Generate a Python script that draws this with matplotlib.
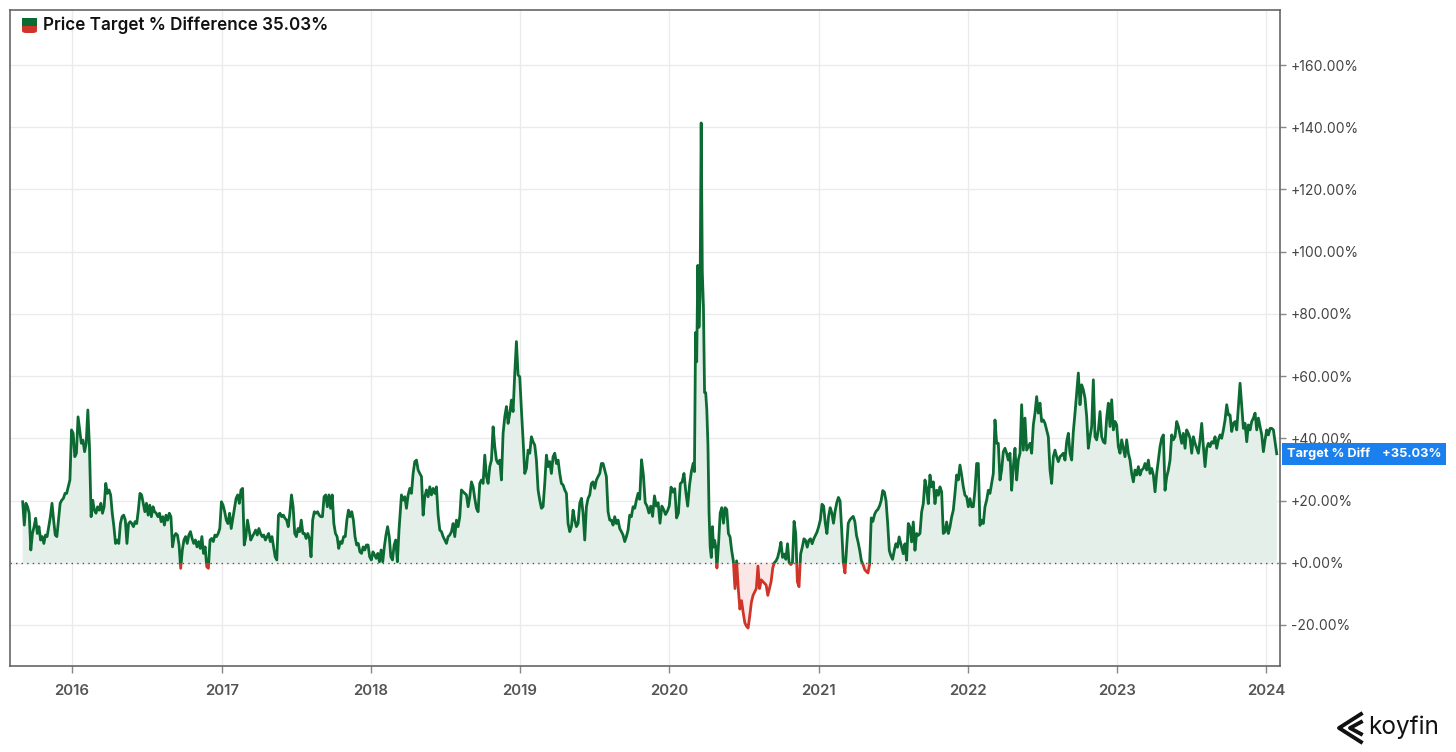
import numpy as np
import pandas as pd
import matplotlib
matplotlib.use("Agg")
import matplotlib.pyplot as plt
import matplotlib.dates as mdates
from matplotlib.patches import Rectangle, FancyBboxPatch
from matplotlib.lines import Line2D

plt.rcParams['font.family'] = ['Inter', 'DejaVu Sans']

# price target % difference in stretches
seg_a = [19.6, 12.1, 19.1, 18.0, 15.9, 4.1, 9.4, 11.6, 14.3, 9.4, 11.6, 7.3, 8.4, 6.2, 8.9, 8.4, 11.6, 14.8,
         19.1, 13.7, 8.9, 8.4, 13.7, 19.1, 20.1, 20.7, 22.3, 22.3, 24.4, 26.6, 42.7, 41.6, 34.1, 35.2, 46.9,
         42.7, 38.4, 39.4, 35.7, 38.4, 49.1, 37.3, 14.8, 20.1, 16.9, 15.9, 18.0, 16.9, 19.1, 15.9, 18.0, 25.5,
         22.3, 23.4, 21.8, 15.9, 11.6, 6.2, 7.3, 6.2, 12.6, 14.8, 15.3, 13.7, 6.2, 12.6, 13.2, 12.6, 11.6, 13.2,
         12.6, 16.9, 22.3, 21.8, 19.1, 16.4, 19.1, 15.3, 18.5, 14.8, 18.0, 16.4, 15.9, 14.8, 15.9, 13.2, 14.8,
         12.1, 15.3, 13.7, 15.9, 14.8, 5.1, 8.4, 9.4, 8.9, 5.7, -1.8, 4.1, 7.3, 8.4, 6.2, 8.9, 10.0, 7.8, 6.2,
         7.3, 5.1, 6.8, 4.6, 8.4, 3.0, 5.1, -1.3, -1.8, 7.3, 7.8, 6.8, 8.9, 8.4, 9.4, 11.0, 19.6, 18.5, 16.4,
         13.7, 12.6, 15.9, 11.0, 14.3, 17.5, 20.7, 21.8, 19.1, 23.4, 23.9, 5.7, 8.4, 13.7, 10.5, 7.3, 8.4, 9.4,
         10.5, 8.9, 11.0, 9.4, 8.4, 8.9, 7.3, 8.4, 9.4, 6.8, 8.4, 5.1, 1.9, 0.9, 15.3, 15.9, 14.8, 15.3, 14.3,
         13.7, 11.6, 15.9, 21.8, 18.0, 9.4, 8.4, 11.0, 10.0, 13.7, 9.4, 9.4, 7.8, 9.4, 7.8, 1.9, 13.7, 16.4,
         15.9, 16.4, 15.3, 14.8, 14.8, 21.2, 21.8, 18.0, 21.8, 17.5, 21.8, 12.6, 9.4, 8.4, 4.6, 6.8, 6.2, 8.4,
         8.4, 13.7, 16.9, 14.8, 16.4, 13.7, 8.4, 5.7, 6.2, 3.5, 3.0, 5.1, 4.1, 5.7, 5.7, 1.9, 0.9, 3.5, 2.5,
         1.4, 3.0, 0.3, 4.1, 0.3, 5.1, 8.9, 11.6, 8.4, 1.9, 0.9, 5.7, 7.3, 0.3, 10.5]
seg_b = [21.8, 20.1, 21.2, 17.5, 21.8, 23.9, 22.3, 28.7, 32.5, 33.0, 29.8, 28.7, 27.7, 15.3, 21.2, 23.4, 21.2,
         24.4, 21.8, 23.9, 22.3, 24.4, 15.3, 10.5, 10.0, 8.4, 7.3, 6.2, 8.4, 8.9, 10.0, 12.6, 8.4, 13.7, 11.6,
         14.8, 23.4, 22.8, 22.3, 21.8, 18.0, 21.2, 26.0, 24.4, 20.7, 17.5, 16.4, 25.5, 26.6, 25.5, 34.6, 27.7,
         25.5, 30.9, 33.0, 43.7, 37.3, 33.0, 31.9, 33.0, 26.6, 41.6, 46.9, 50.2, 44.8, 48.0, 52.3, 48.6, 60.9,
         71.1, 60.3, 59.8, 49.1, 39.4, 28.7, 30.3, 36.2, 35.2, 40.5, 38.9, 37.8, 33.0, 23.4, 20.1, 17.5, 18.0,
         25.5, 34.6, 30.9, 32.5, 28.7, 34.1, 35.2, 31.9, 33.0, 28.7, 25.5, 25.0, 23.4, 22.3, 12.6, 10.0, 11.6,
         16.9, 13.7, 11.6, 12.6, 19.1, 20.7, 15.9, 7.3, 18.0, 20.7, 21.8, 25.5, 26.0, 23.9, 26.6, 27.7, 28.7,
         31.9, 31.9, 29.8, 27.7, 16.4, 13.7, 13.7, 12.1, 14.8, 12.6, 13.7, 11.0, 10.0, 8.9, 6.8, 8.4, 10.5,
         15.3, 14.8, 18.0, 17.5, 20.1, 22.3]
seg_c1 = [20.4, 33.1, 28.2, 19.3, 18.2, 16.0, 18.2, 14.9, 21.5, 18.2, 19.3, 12.7, 18.2, 17.1, 15.5, 16.6, 18.2,
          24.3, 22.7, 23.8, 14.4, 16.0, 25.4, 26.0, 28.7, 22.7, 18.2, 24.9, 29.3, 32.0]
seg_c2 = [29.3, 74.0, 64.6, 95.6, 75.7, 85.6, 141.4, 93.4, 82.3, 54.7, 54.7, 49.2, 38.1, 16.0, 5.0, 1.7, 11.6,
          5.0, 7.2, 5.0, -1.7]
seg_c3 = [6.1, 16.0, 17.7, 12.7, 17.7, 17.1, 9.4, 8.3, 3.9, 0.6, -8.3, 0.6, -8.3, -14.9, -12.2, -16.0, -19.3,
          -20.4, -21.0, -17.1, -12.7, -10.5, -9.4, -8.3, -1.1, -8.3, -5.5, -6.1, -6.6, -7.2, -10.5, -8.3, -6.1,
          -1.7, 0.0, 0.6, 1.7, 3.9, 6.6, 1.7, 2.8, 1.1, 6.1, 0.0, -0.6, 0.0, 13.3, 9.4, -6.1, -7.7, 2.8, 5.0,
          7.7, 7.2, 5.0, 7.2, 7.7, 6.1, 7.7, 8.8, 9.9, 11.6, 13.8, 18.8, 18.2, 12.7, 9.4, 14.9, 17.7, 16.0,
          12.7, 16.6, 19.3, 21.0, 19.9, 10.5, 0.0, -3.3, 5.0, 12.7, 13.8, 14.4, 14.9, 13.3, 8.8, 6.6, 3.9, 0.6,
          -0.6, -2.2, -2.8, -3.3, -0.6, 14.4, 13.3, 15.5, 16.6, 17.1, 18.2, 19.9, 23.2, 22.7, 19.9, 12.7, 3.9,
          2.2, 1.1, 3.9, 6.1, 5.0, 8.3]
seg_d = [5.1, 2.9, 6.1, 0.8, 12.6, 11.5, 6.7, 13.1, 4.0, 9.4, 8.8, 9.4, 16.3, 19.0, 26.6, 23.9, 19.0, 28.2, 24.4,
         26.0, 19.0, 23.3, 21.7, 24.4, 22.8, 9.4, 9.9, 13.1, 9.4, 11.5, 14.7, 16.9, 22.3, 28.2, 26.6, 31.4, 28.2,
         24.4, 21.7, 21.2, 18.0, 20.6, 18.0, 18.0, 23.3, 31.9, 31.9, 12.0, 13.7, 12.6, 18.0, 20.1, 23.3, 22.3,
         25.5, 28.7, 45.9, 38.4, 38.4, 26.6, 29.8, 35.7, 36.8, 35.2, 33.0, 35.2, 23.3, 30.9, 36.8, 26.6, 33.0,
         35.2, 50.8, 36.2, 46.5, 36.2, 37.3, 38.4, 35.2, 44.3, 48.1, 53.4, 48.1, 51.3, 45.4, 45.9, 44.8, 42.7,
         40.5, 29.8, 25.5, 34.1, 36.2, 34.1, 32.5, 34.1, 34.6, 35.2, 33.0, 38.9, 41.6, 35.2, 33.0, 42.2, 48.1,
         54.5, 61.0, 50.8, 57.2, 55.6, 52.9, 47.0, 36.8, 40.5, 43.8, 58.8, 40.5, 39.5, 42.7, 48.6, 40.5, 38.9,
         38.4, 46.5, 51.3, 43.8, 52.4, 42.7, 45.4, 44.3, 37.3, 35.2, 39.5, 36.8, 34.1, 39.5, 35.2, 33.0, 28.7,
         26.0, 29.8, 28.2, 30.9, 28.2, 29.8, 30.3, 31.9, 29.8, 33.0, 28.7, 30.3, 28.2, 22.8, 28.7, 33.0, 37.3,
         40.0, 41.1, 23.3, 27.6, 29.8, 33.0, 41.1, 39.5, 40.5, 45.4, 43.8, 41.1, 38.4, 41.6, 36.8, 42.7, 41.6,
         40.0, 35.2, 40.5, 38.4, 36.8, 35.2, 39.5, 44.8, 37.3, 30.9, 36.8, 38.4, 37.3, 38.9, 38.4, 40.5, 36.8,
         39.5, 41.1, 40.0, 42.7, 45.9, 50.8, 47.5, 47.5, 42.2, 44.8, 45.4, 42.7, 50.2, 57.7, 50.2, 43.2, 44.8,
         38.9, 44.3, 42.7, 45.4, 46.5, 48.1, 42.7, 46.5, 43.8, 41.1, 35.7, 39.5, 42.7, 41.1, 43.2, 43.2, 42.7,
         38.9, 35.03]

segments = [seg_a, seg_b, seg_c1, seg_c2, seg_c3, seg_d]
seg_dates = [("2015-09-02", "2018-03-11"), ("2018-03-17", "2019-10-17"), ("2019-10-21", "2020-02-29"),
             ("2020-03-03", "2020-04-27"), ("2020-05-01", "2021-07-17"), ("2021-07-23", "2024-01-27")]

last_value = 35.03
y_ticks = [-20, 0, 20, 40, 60, 80, 100, 120, 140, 160]

dates = []
vals = []
for (d0, d1), seg in zip(seg_dates, segments):
    dates.append(pd.date_range(d0, d1, periods=len(seg)))
    vals.extend(seg)
dates = pd.DatetimeIndex(np.concatenate([d.values for d in dates]))
vals = np.array(vals)

GREEN = '#0c6a33'
RED = '#cf3429'

fig = plt.figure(figsize=(14.56, 7.52), dpi=100)
ax = fig.add_axes([10 / 1456, 1 - 666 / 752, 1270 / 1456, 656 / 752])

ax.fill_between(dates, vals, 0, where=vals >= 0, interpolate=True, color='#e5efe9', lw=0)
ax.fill_between(dates, vals, 0, where=vals <= 0, interpolate=True, color='#fbe7e6', lw=0)

g_line, = ax.plot(dates, vals, color=GREEN, lw=2.0, zorder=3)
r_line, = ax.plot(dates, vals, color=RED, lw=2.0, zorder=3)
x0 = mdates.date2num(pd.Timestamp("2010-01-01"))
g_line.set_clip_path(Rectangle((x0, 0), 8000, 1000, transform=ax.transData))
r_line.set_clip_path(Rectangle((x0, -1000), 8000, 1000, transform=ax.transData))

ax.axhline(0, color='#555555', lw=1, ls=(0, (1, 3)), zorder=2)

ax.set_xlim(pd.Timestamp("2015-08-02"), pd.Timestamp("2024-02-04"))
ax.set_ylim(-33.2, 177.7)

ax.yaxis.tick_right()
ax.set_yticks(y_ticks)
ax.set_yticklabels([f"{v:+.2f}%" for v in y_ticks])
ax.xaxis.set_major_locator(mdates.YearLocator())
ax.xaxis.set_major_formatter(mdates.DateFormatter('%Y'))

ax.grid(color='#ebebeb', lw=1)
ax.set_axisbelow(True)
for s in ax.spines.values():
    s.set_color('#666666')
    s.set_linewidth(1.2)

ax.tick_params(axis='y', length=4, width=1, color='#888888', labelcolor='#444444', labelsize=10, pad=4)
ax.tick_params(axis='x', length=5, width=1, color='#888888', labelcolor='#555555', labelsize=10.8, pad=8)
for lab in ax.get_xticklabels():
    lab.set_fontweight('semibold')

# current value tag on the right axis
ax.annotate("Target % Diff    +35.03%", xy=(1, last_value), xycoords=('axes fraction', 'data'),
            xytext=(5, 0), textcoords='offset points', ha='left', va='center', color='white',
            fontsize=9.2, fontweight='bold', annotation_clip=False,
            bbox=dict(boxstyle='square,pad=0.38', fc='#1a80ee', ec='none'))

# legend / title
fig.patches.append(FancyBboxPatch((22 / 1456, 1 - 33 / 752), 15 / 1456, 15 / 752,
                                  boxstyle='round,pad=0,rounding_size=0.003', fc=RED, ec='none',
                                  transform=fig.transFigure))
fig.patches.append(Rectangle((22 / 1456, 1 - 25.5 / 752), 15 / 1456, 7.5 / 752, fc=GREEN, ec='none',
                             transform=fig.transFigure))
fig.text(43 / 1456, 1 - 25 / 752, "Price Target % Difference 35.03%", fontsize=12.3,
         fontweight='semibold', color='#111111', va='center', ha='left')

# koyfin logo
for pts in ([(1361, 714), (1339, 728), (1361, 742)], [(1361, 722), (1350, 728), (1361, 734)]):
    xs = [p[0] / 1456 for p in pts]
    ys = [1 - p[1] / 752 for p in pts]
    fig.lines.append(Line2D(xs, ys, color='#111111', lw=2.8, transform=fig.transFigure))
fig.text(1368 / 1456, 1 - 727 / 752, "koyfin", fontsize=17.5, color='#111111', ha='left', va='center')

fig.savefig("out.png", dpi=100)
